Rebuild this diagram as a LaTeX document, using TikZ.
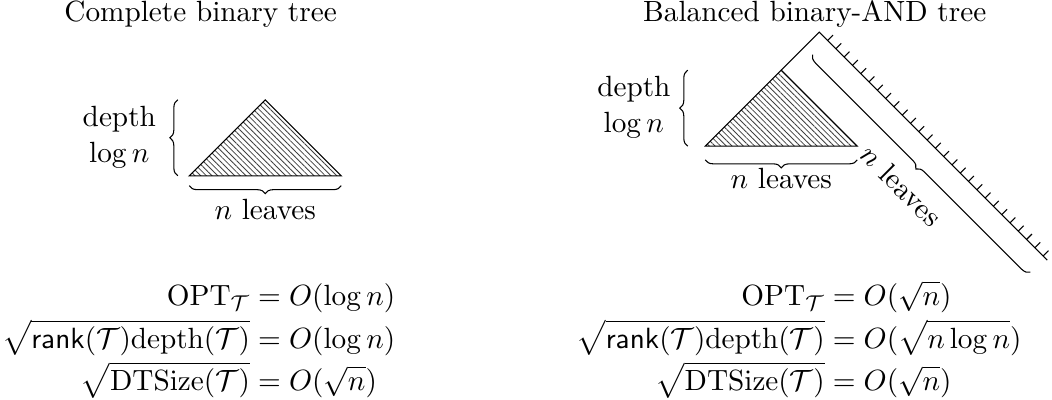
\documentclass[tikz,border=0pt,11pt]{standalone}
\usepackage{amsmath}
\usetikzlibrary{patterns.meta,decorations.pathreplacing,calc}
\setlength{\jot}{0pt}
\tikzset{
  hatched/.style={pattern={Lines[angle=-45,distance=1.5pt,line width=0.3pt]}, pattern color=black!75},
  curly/.style={decorate, decoration={brace, amplitude=3pt}},
  leaf/.style={line width=0.4pt}
}
\begin{document}
\begin{tikzpicture}[]
    \useasboundingbox (0,0) rectangle (13.842,5.263);

    % Titles above the two trees
    \node[draw=none, anchor=base] (title_1) at (2.64,4.98) {Complete binary tree};
    \node[draw=none, anchor=base] (title_2) at (10.72,4.98) {Balanced binary-AND tree};

    % Complete binary tree as one hatched triangle
    \coordinate (l_left) at (2.49,2.95);
    \coordinate (l_apex) at (3.49,3.95);
    \coordinate (l_right) at (4.49,2.95);
    \draw[hatched] (l_left) -- (l_apex) -- (l_right) -- cycle;

    % Braces and labels of the complete tree
    \coordinate (l_d1) at (2.34,2.95);
    \coordinate (l_d2) at (2.34,3.95);
    \coordinate (l_b1) at (4.49,2.82);
    \coordinate (l_b2) at (2.49,2.82);
    \draw[curly] (l_d1) -- (l_d2);
    \draw[curly] (l_b1) -- (l_b2);
    \node[draw=none, align=center] (depth_1) at (1.57,3.46) {depth\\$\log n$};
    \node[draw=none] (leaves_1) at (3.49,2.5) {$n$ leaves};

    % Balanced binary-AND tree: hatched subtree plus the long spine
    \coordinate (r_left) at (9.28,3.34);
    \coordinate (r_sub) at (10.28,4.34);
    \coordinate (r_right) at (11.28,3.34);
    \coordinate (r_top) at (10.78,4.84);
    \coordinate (r_end) at (13.78,1.84);
    \draw[hatched] (r_left) -- (r_sub) -- (r_right) -- cycle;
    \draw (r_sub) -- (r_top) -- (r_end);

    % Leaves hanging off the spine
    \foreach \i in {1,...,27}
        \draw[leaf] ($(r_top)!\i/27.5!(r_end)$) -- ++(45:0.1);

    % Braces and labels of the binary-AND tree
    \coordinate (r_d1) at (9.05,3.34);
    \coordinate (r_d2) at (9.05,4.34);
    \coordinate (r_b1) at (11.28,3.16);
    \coordinate (r_b2) at (9.28,3.16);
    \coordinate (r_s1) at (13.556,1.682);
    \coordinate (r_s2) at (10.686,4.552);
    \draw[curly] (r_d1) -- (r_d2);
    \draw[curly] (r_b1) -- (r_b2);
    \draw[curly] (r_s1) -- (r_s2);
    \node[draw=none, align=center] (depth_2) at (8.34,3.855) {depth\\$\log n$};
    \node[draw=none] (leaves_2) at (10.28,2.91) {$n$ leaves};
    \node[draw=none, rotate=-45] (leaves_3) at (11.86,2.82) {$n$ leaves};

    % Bounds under each tree
    \node[draw=none, anchor=west, inner sep=0pt] (eq_1) at (0.02,0.776) {$\begin{aligned}
        \mathrm{OPT}_{\mathcal{T}} &= O(\log n)\\
        \sqrt{\mathsf{rank}(\mathcal{T})\mathrm{depth}(\mathcal{T})} &= O(\log n)\\
        \sqrt{\mathrm{DTSize}(\mathcal{T})} &= O(\sqrt{n})
    \end{aligned}$};
    \node[draw=none, anchor=west, inner sep=0pt] (eq_2) at (7.58,0.776) {$\begin{aligned}
        \mathrm{OPT}_{\mathcal{T}} &= O(\sqrt{n})\\
        \sqrt{\mathsf{rank}(\mathcal{T})\mathrm{depth}(\mathcal{T})} &= O(\sqrt{n\log n})\\
        \sqrt{\mathrm{DTSize}(\mathcal{T})} &= O(\sqrt{n})
    \end{aligned}$};

\end{tikzpicture}
\end{document}
